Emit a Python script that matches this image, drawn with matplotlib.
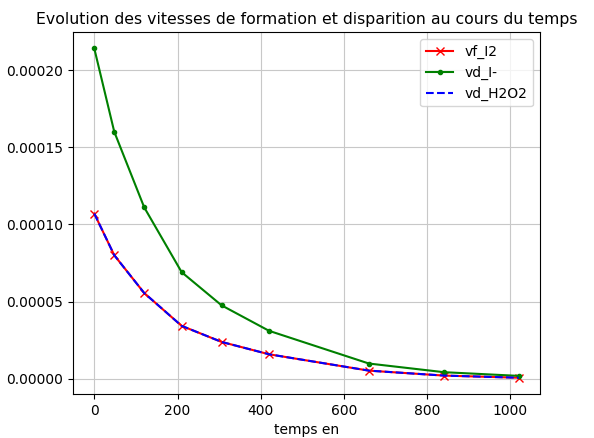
import matplotlib
matplotlib.use("Agg")
import matplotlib.pyplot as plt

# temps (s) et vitesses
temps = [0, 48, 120, 210, 306, 420, 660, 840, 1020]
vf_I2 = [1.07e-4, 8.0e-5, 5.55e-5, 3.42e-5, 2.38e-5, 1.58e-5, 0.52e-5, 0.2e-5, 0.06e-5]
vd_I = [2.14e-4, 1.60e-4, 1.11e-4, 6.9e-5, 4.75e-5, 3.1e-5, 0.98e-5, 0.42e-5, 0.18e-5]
vd_H2O2 = [1.07e-4, 8.0e-5, 5.55e-5, 3.42e-5, 2.38e-5, 1.58e-5, 0.52e-5, 0.2e-5, 0.06e-5]

fig = plt.figure(figsize=(5.94, 4.38), dpi=100)
ax = fig.add_subplot(111)
fig.subplots_adjust(left=0.123, right=0.909, bottom=0.10, top=0.927)

ax.plot(temps, vf_I2, color='red', marker='x', label='vf_I2')
ax.plot(temps, vd_I, color='green', marker='.', label='vd_I-')
ax.plot(temps, vd_H2O2, color='blue', linestyle='--', label='vd_H2O2')

ax.set_xlabel('temps en')
ax.set_title('Evolution des vitesses de formation et disparition au cours du temps', fontsize=11.3)
ax.set_yticks([0, 0.00005, 0.0001, 0.00015, 0.0002])
ax.set_yticklabels(['0.00000', '0.00005', '0.00010', '0.00015', '0.00020'])
ax.grid(True, color='#c8c8c8')
ax.legend()

fig.savefig('out.png', dpi=100)
